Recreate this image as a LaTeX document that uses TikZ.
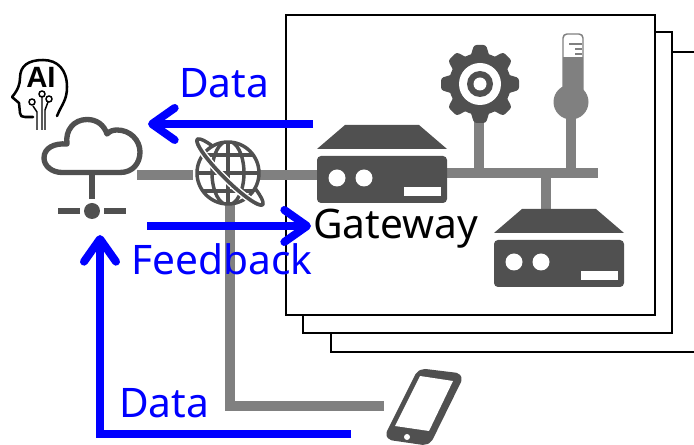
\documentclass[tikz,border=0pt]{standalone}
\usepackage{fontspec}
\setmainfont{Noto Sans}
\newfontfamily\aifont{Liberation Sans}
\usepackage{tikz}
\usetikzlibrary{arrows.meta}
\definecolor{icondark}{HTML}{505050}
\definecolor{linkgray}{HTML}{808080}
\definecolor{flowblue}{HTML}{0000FF}
\tikzset{
  pics/device/.style={code={
    \fill[icondark] (28,0) -- (102,0) -- (130,24) -- (0,24) -- cycle;
    \fill[icondark,rounded corners=3] (0,31) -- (130,31) -- (130,78) -- (0,78) -- cycle;
    \fill[white] (20,53) circle (8.5);
    \fill[white] (47,53) circle (8.5);
    \fill[white] (87,62) rectangle (124,71);
  }}
}
\begin{document}
\begin{tikzpicture}[x=.75pt,y=-.75pt]
\tikzstyle{sheet}=[draw=black, fill=white, line width=1.9pt]
\tikzstyle{link}=[draw=linkgray, line width=7pt]
\tikzstyle{flow}=[draw=flowblue, line width=6pt, -{Straight Barb[length=17pt,width=24pt,round]}]
\tikzstyle{flowtext}=[anchor=base west, inner sep=0, text=flowblue, font=\fontsize{30.5}{32}\selectfont]
\useasboundingbox (0,0) rectangle (694,445);

% stacked sheets
\path[sheet] (694,52) -- (331,52) -- (331,352) -- (694,352);
\path[sheet] (303,32) rectangle (672,333);
\path[sheet] (286,15) rectangle (655,315);

% connector ends
\coordinate (cloudE) at (137,175);
\coordinate (globeW) at (193,175);
\coordinate (globeE) at (260,175);
\coordinate (gateW) at (320,175);
\coordinate (globeS) at (230,196);
\coordinate (phoneW) at (384,406);
\coordinate (gateE) at (445,173);
\coordinate (busE) at (598,173);
\coordinate (gearS) at (479,115);
\coordinate (gearB) at (479,173);
\coordinate (thermoS) at (571,112);
\coordinate (thermoB) at (571,173);
\coordinate (devB) at (546,173);
\coordinate (devN) at (546,212);
\coordinate (dataA) at (313,124);
\coordinate (dataB) at (148,124);
\coordinate (feedA) at (147,226);
\coordinate (feedB) at (311,226);
\coordinate (phoneA) at (351,434);
\coordinate (cloudS) at (100,235);

\draw[link] (cloudE) -- (globeW);
\draw[link] (globeE) -- (gateW);
\draw[link] (globeS) |- (phoneW);
\draw[link] (gateE) -- (busE);
\draw[link] (gearS) -- (gearB);
\draw[link] (thermoS) -- (thermoB);
\draw[link] (devB) -- (devN);

% globe
\draw[icondark, line width=2.6pt] plot[domain=180:360,samples=30] ({230+46*cos(\x)*cos(45)-8*sin(\x)*sin(45)},{172+46*cos(\x)*sin(45)+8*sin(\x)*cos(45)});
\fill[white] (228,173) circle (32);
\begin{scope}
\clip (228,173) circle (32);
\draw[icondark, line width=2.6pt] (196,155) -- (260,155) (196,173) -- (260,173) (196,191) -- (260,191) (228,141) -- (228,205);
\draw[icondark, line width=2.6pt] (228,173) circle [x radius=16, y radius=32];
\end{scope}
\draw[icondark, line width=2.6pt] (228,173) circle (31);
\draw[white, line width=5pt] plot[domain=15:165,samples=30] ({230+46*cos(\x)*cos(45)-8*sin(\x)*sin(45)},{172+46*cos(\x)*sin(45)+8*sin(\x)*cos(45)});
\draw[icondark, line width=2.8pt, line cap=round] plot[domain=-5:185,samples=40] ({230+46*cos(\x)*cos(45)-8*sin(\x)*sin(45)},{172+46*cos(\x)*sin(45)+8*sin(\x)*cos(45)});

% cloud and its stem
\draw[icondark, line width=4pt, line join=round] (62,172.5) -- (120,172.5)
  .. controls (133,172.5) and (140,163) .. (140,152)
  .. controls (140,140) and (130,130) .. (117,130)
  .. controls (113,130) and (110,131) .. (107,134)
  .. controls (104,125) and (97,119.5) .. (87,119.5)
  .. controls (74,119.5) and (65,130) .. (67,144)
  .. controls (54,143) and (44,148) .. (44,158)
  .. controls (44,166) and (52,172.5) .. (62,172.5) -- cycle;
\fill[icondark] (89,173) rectangle (95,199);
\fill[icondark] (92,211) circle (8);
\fill[icondark] (58,208) rectangle (80,214);
\fill[icondark] (104,208) rectangle (126,214);

% AI head
\draw[black, line width=1.9pt, line cap=round, line join=round] (57,116) .. controls (62,104) and (67,100) .. (67,87)
  .. controls (67,70) and (58,60) .. (43,60) .. controls (28,60) and (20,66) .. (20,78)
  .. controls (20,84) and (18,90) .. (12,97) -- (19,103) -- (20,113) .. controls (20,116) and (22,117) .. (25,117) -- (33,117);
\node at (26,88) [anchor=base west, inner sep=0, font=\aifont\bfseries\fontsize{22}{24}\selectfont] (aitext) {AI};
\draw[black, line width=1.1pt] (42,96) -- (42,130) (45,130) -- (45,110) -- (48,102) (37,130) -- (37,112) -- (33,106);
\draw[black, line width=1.1pt] (42,94) circle (3) (49,99) circle (3) (32,102) circle (3);

% gateway, second device
\pic at (317,125) {device};
\pic at (494,209) {device};

% gear
\begin{scope}[shift={(480,84)}]
\foreach \a in {0,45,...,315} \fill[icondark, rotate=\a, rounded corners=2] (26,-10) -- (39,-6) -- (39,6) -- (26,10) -- cycle;
\fill[icondark] (0,0) circle (31);
\fill[white] (0,0) circle (21);
\fill[icondark] (0,0) circle (13);
\fill[white] (0,0) circle (6.5);
\end{scope}

% thermometer
\draw[linkgray, line width=1.1pt, rounded corners=3] (563,90) -- (563,34) -- (583,34) -- (583,90);
\fill[linkgray] (563,57) rectangle (583,92);
\fill[linkgray] (571,102) circle (17.5);
\draw[linkgray, line width=2pt] (569,44) -- (582,44) (575,49) -- (582,49) (575,54) -- (582,54);

% phone
\draw[icondark, fill=icondark, line width=4pt, line join=round, rounded corners=4] (420,371) -- (461,376) -- (428,443) -- (387,437) -- cycle;
\fill[white] (420,376) -- (453,381) -- (429,431) -- (395,426) -- cycle;
\fill[white] (407,437) circle (3);

% flows
\draw[flow] (dataA) -- (dataB);
\draw[flow] (feedA) -- (feedB);
\draw[flow] (phoneA) -| (cloudS);

% labels
\node at (179,98) [flowtext] (datatop) {Data};
\node at (131,275) [flowtext] (feedback) {Feedback};
\node at (119,418) [flowtext] (databottom) {Data};
\node at (313,239) [anchor=base west, inner sep=0, font=\fontsize{30.5}{32}\selectfont] (gateway) {Gateway};
\end{tikzpicture}
\end{document}
